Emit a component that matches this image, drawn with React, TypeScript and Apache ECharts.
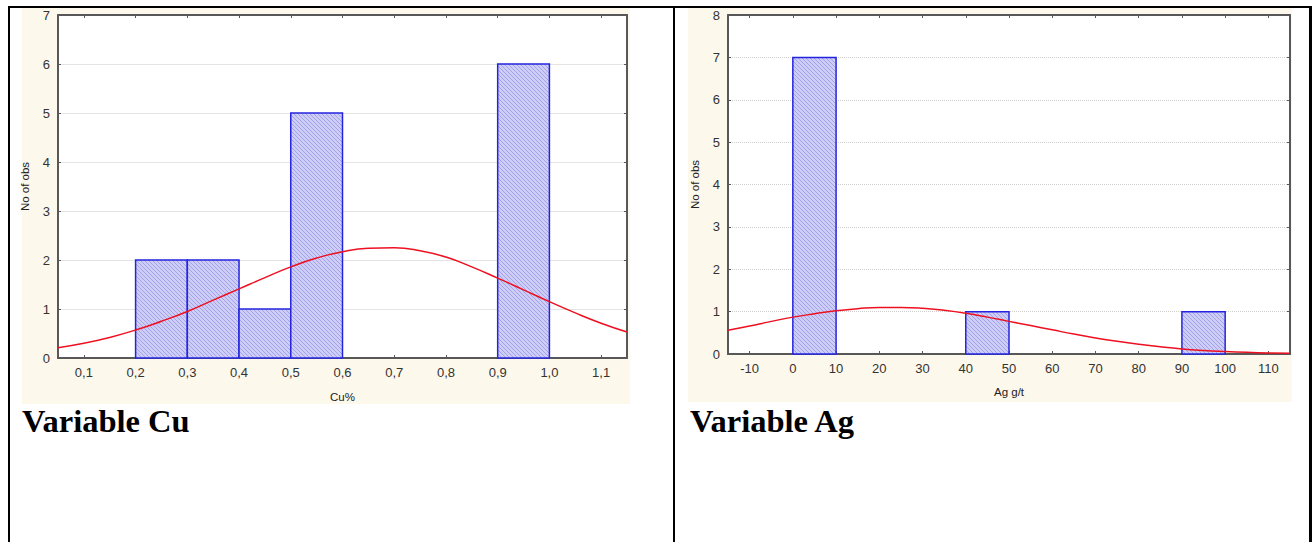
import React, { useEffect, useRef } from "react";
import * as echarts from "echarts";

// ---- Cu histogram ----
const cuBinStart = [0.2, 0.3, 0.4, 0.5, 0.9];
const cuBinEnd = [0.3, 0.4, 0.5, 0.6, 1.0];
const cuCounts = [2, 2, 1, 5, 6];
const cuCurveX = [0.05, 0.1, 0.15, 0.2, 0.25, 0.3, 0.35, 0.4, 0.45, 0.5, 0.55, 0.6, 0.65, 0.7, 0.75, 0.8, 0.85, 0.9, 0.95, 1.0, 1.05, 1.1, 1.15];
const cuCurveY = [0.21, 0.3, 0.42, 0.57, 0.75, 0.95, 1.18, 1.41, 1.64, 1.86, 2.04, 2.17, 2.24, 2.25, 2.19, 2.06, 1.86, 1.63, 1.39, 1.15, 0.92, 0.71, 0.53];
const cuTicks = [0.1, 0.2, 0.3, 0.4, 0.5, 0.6, 0.7, 0.8, 0.9, 1.0, 1.1];

// ---- Ag histogram ----
const agBinStart = [0, 40, 90];
const agBinEnd = [10, 50, 100];
const agCounts = [7, 1, 1];
const agCurveX = [-15, -10, -5, 0, 5, 10, 15, 20, 25, 30, 35, 40, 45, 50, 55, 60, 65, 70, 75, 80, 85, 90, 95, 100, 105, 110, 115];
const agCurveY = [0.56, 0.66, 0.77, 0.87, 0.95, 1.02, 1.07, 1.1, 1.1, 1.08, 1.03, 0.96, 0.87, 0.77, 0.67, 0.57, 0.47, 0.38, 0.3, 0.23, 0.17, 0.12, 0.085, 0.06, 0.04, 0.025, 0.015];
const agTicks = [-10, 0, 10, 20, 30, 40, 50, 60, 70, 80, 90, 100, 110];

const LABEL_FONT = "Arial, 'Liberation Sans', sans-serif";
const SERIF = "'Times New Roman', 'Liberation Serif', serif";
const BEIGE = "#fdf8ec";
const AXIS_COLOR = "#585858";

function makeHatch(): any {
  const c = document.createElement("canvas");
  c.width = 4;
  c.height = 4;
  const ctx = c.getContext("2d");
  if (!ctx) return "#bdbdf2";
  ctx.fillStyle = "#cdcdf6";
  ctx.fillRect(0, 0, 4, 4);
  ctx.fillStyle = "#a2a2ec";
  for (let i = 0; i < 4; i++) ctx.fillRect(i, i, 1, 1);
  return { image: c, repeat: "repeat" };
}

export default function App() {
  const ref = useRef<HTMLDivElement>(null);

  useEffect(() => {
    if (!ref.current) return;
    const chart = echarts.init(ref.current, undefined, { renderer: "svg" });
    const hatch = makeHatch();

    const barRender = (params: any, api: any) => {
      const s = api.value(0);
      const e = api.value(1);
      const c = api.value(2);
      const p0 = api.coord([s, 0]);
      const p1 = api.coord([e, c]);
      return {
        type: "rect",
        shape: { x: p0[0], y: p1[1], width: p1[0] - p0[0], height: p0[1] - p1[1] },
        style: { fill: hatch, stroke: "#2424e0", lineWidth: 1.5 },
      };
    };

    const axisLabelStyle = { color: "#333", fontSize: 13, fontFamily: LABEL_FONT };
    const nameStyle = { color: "#222", fontSize: 11.5, fontFamily: LABEL_FONT };

    const xBottom = (gridIndex: number, min: number, max: number, ticks: number[], name: string, fmt: (v: number) => string, gap: number) => ({
      type: "value",
      gridIndex,
      position: "bottom",
      min,
      max,
      name,
      nameLocation: "middle",
      nameGap: gap,
      nameTextStyle: nameStyle,
      axisLine: { show: true, onZero: false, lineStyle: { color: AXIS_COLOR, width: 2 } },
      axisTick: { show: true, inside: true, length: 3, customValues: ticks, lineStyle: { color: AXIS_COLOR } },
      axisLabel: { show: true, margin: 8, customValues: ticks, formatter: fmt, ...axisLabelStyle },
      splitLine: { show: false },
    });
    const xTop = (gridIndex: number, min: number, max: number, ticks: number[]) => ({
      type: "value",
      gridIndex,
      position: "top",
      min,
      max,
      axisLine: { show: true, onZero: false, lineStyle: { color: AXIS_COLOR, width: 2 } },
      axisTick: { show: true, inside: true, length: 3, customValues: ticks, lineStyle: { color: AXIS_COLOR } },
      axisLabel: { show: false },
      splitLine: { show: false },
    });
    const yLeft = (gridIndex: number, max: number, dotted: boolean) => ({
      type: "value",
      gridIndex,
      position: "left",
      min: 0,
      max,
      interval: 1,
      name: "No of obs",
      nameLocation: "middle",
      nameGap: 27,
      nameRotate: 90,
      nameTextStyle: nameStyle,
      axisLine: { show: true, onZero: false, lineStyle: { color: AXIS_COLOR, width: 2 } },
      axisTick: { show: true, inside: true, length: 3, lineStyle: { color: AXIS_COLOR } },
      axisLabel: { show: true, margin: 8, ...axisLabelStyle },
      splitLine: { show: true, lineStyle: { color: dotted ? "#cfcfcf" : "#e4e4e4", width: 1, type: dotted ? "dotted" : "solid" } },
    });
    const yRight = (gridIndex: number, max: number) => ({
      type: "value",
      gridIndex,
      position: "right",
      min: 0,
      max,
      interval: 1,
      axisLine: { show: true, onZero: false, lineStyle: { color: AXIS_COLOR, width: 2 } },
      axisTick: { show: true, inside: true, length: 3, lineStyle: { color: AXIS_COLOR } },
      axisLabel: { show: false },
      splitLine: { show: false },
    });

    const cuFmt = (v: number) => v.toFixed(1).replace(".", ",");
    const agFmt = (v: number) => String(Math.round(v));

    const option: any = {
      animation: false,
      backgroundColor: "#ffffff",
      graphic: [
        { type: "rect", z: -10, shape: { x: 22, y: 7, width: 608, height: 397 }, style: { fill: BEIGE } },
        { type: "rect", z: -10, shape: { x: 688, y: 8, width: 604, height: 394 }, style: { fill: BEIGE } },
        { type: "rect", z: 100, shape: { x: 8, y: 6, width: 1304, height: 2 }, style: { fill: "#000" } },
        { type: "rect", z: 100, shape: { x: 8, y: 6, width: 2, height: 540 }, style: { fill: "#000" } },
        { type: "rect", z: 100, shape: { x: 673, y: 6, width: 2, height: 540 }, style: { fill: "#000" } },
        { type: "rect", z: 100, shape: { x: 1309, y: 6, width: 3, height: 540 }, style: { fill: "#000" } },
        {
          type: "text",
          z: 100,
          x: 22,
          y: 421,
          style: { text: "Variable Cu", fill: "#000", font: `bold 32.5px ${SERIF}`, verticalAlign: "middle", align: "left" },
        },
        {
          type: "text",
          z: 100,
          x: 690,
          y: 421,
          style: { text: "Variable Ag", fill: "#000", font: `bold 32.5px ${SERIF}`, verticalAlign: "middle", align: "left" },
        },
      ],
      grid: [
        { left: 58, top: 15, width: 569, height: 343, show: true, backgroundColor: "#ffffff", borderWidth: 0 },
        { left: 728, top: 15, width: 562, height: 339, show: true, backgroundColor: "#ffffff", borderWidth: 0 },
      ],
      xAxis: [
        xBottom(0, 0.05, 1.15, cuTicks, "Cu%", cuFmt, 33),
        xTop(0, 0.05, 1.15, cuTicks),
        xBottom(1, -15, 115, agTicks, "Ag g/t", agFmt, 32),
        xTop(1, -15, 115, agTicks),
      ],
      yAxis: [yLeft(0, 7, false), yRight(0, 7), yLeft(1, 8, true), yRight(1, 8)],
      series: [
        {
          type: "custom",
          xAxisIndex: 0,
          yAxisIndex: 0,
          renderItem: barRender,
          encode: { x: [0, 1], y: 2 },
          data: cuCounts.map((c, i) => [cuBinStart[i], cuBinEnd[i], c]),
          z: 2,
        },
        {
          type: "line",
          xAxisIndex: 0,
          yAxisIndex: 0,
          smooth: true,
          showSymbol: false,
          lineStyle: { color: "#ee1020", width: 1.5 },
          data: cuCurveX.map((x, i) => [x, cuCurveY[i]]),
          z: 3,
        },
        {
          type: "custom",
          xAxisIndex: 2,
          yAxisIndex: 2,
          renderItem: barRender,
          encode: { x: [0, 1], y: 2 },
          data: agCounts.map((c, i) => [agBinStart[i], agBinEnd[i], c]),
          z: 2,
        },
        {
          type: "line",
          xAxisIndex: 2,
          yAxisIndex: 2,
          smooth: true,
          showSymbol: false,
          lineStyle: { color: "#ee1020", width: 1.5 },
          data: agCurveX.map((x, i) => [x, agCurveY[i]]),
          z: 3,
        },
      ],
    };

    chart.setOption(option);
    return () => chart.dispose();
  }, []);

  return (
    <div
      ref={ref}
      style={{ position: "absolute", left: 0, top: 0, width: 1316, height: 542 }}
    />
  );
}
